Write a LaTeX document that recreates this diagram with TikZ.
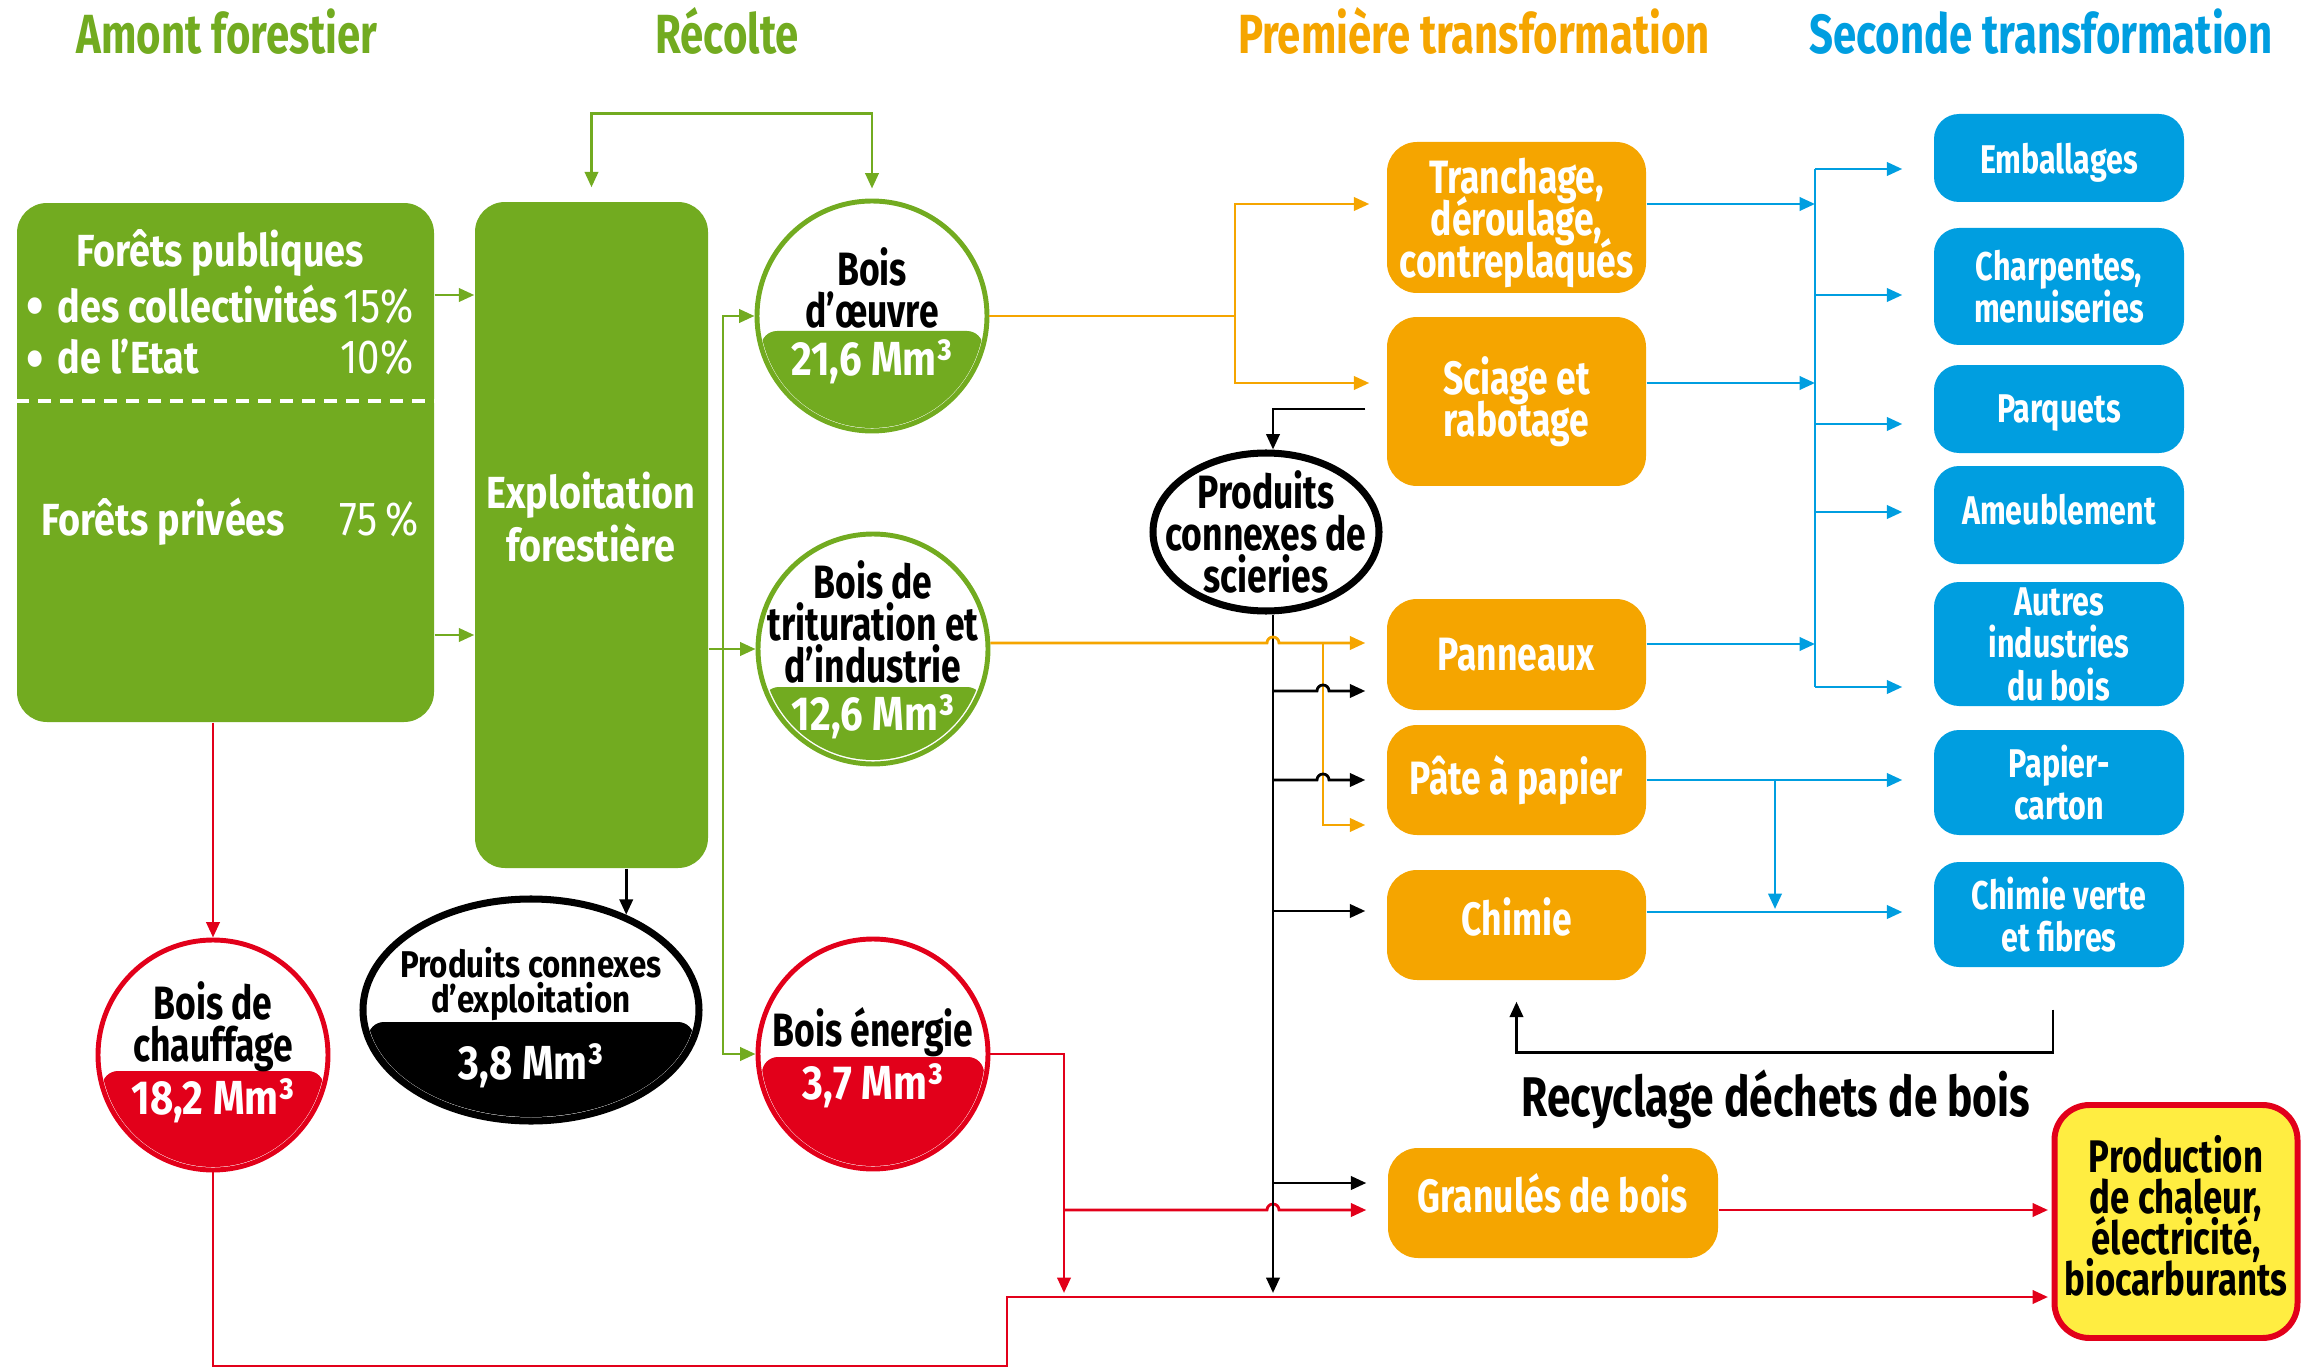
\documentclass[tikz,border=0pt]{standalone}
\usepackage{fontspec}
\setmainfont{Fira Sans}[FakeStretch=0.76]
\newfontfamily\widefont{Fira Sans}[FakeStretch=0.84]
\usetikzlibrary{calc,arrows.meta,shapes.geometric}
\definecolor{vert}{RGB}{114,171,32}
\definecolor{ora}{RGB}{245,165,0}
\definecolor{bleu}{RGB}{0,158,224}
\definecolor{rouge}{RGB}{226,0,26}
\definecolor{jaune}{RGB}{255,237,65}
\newcommand\ftitre{\fontsize{15.7}{16}\selectfont\bfseries}
\newcommand\ftxt{\fontsize{13.3}{12}\selectfont\bfseries\lineskiplimit=-20pt}
\newcommand\fforet{\widefont\fontsize{12.8}{12.4}\selectfont\bfseries\lineskiplimit=-20pt}
\newcommand\fexpl{\widefont\fontsize{12.8}{15}\selectfont\bfseries\lineskiplimit=-20pt}
\newcommand\fpuce{\widefont\fontsize{17}{17}\selectfont\bfseries}
\newcommand\fnum{\widefont\fontsize{13.6}{12}\selectfont\mdseries}
\newcommand\fval{\widefont\fontsize{13.6}{13}\selectfont\bfseries}
\newcommand\fbleu{\fontsize{11.4}{12}\selectfont\bfseries\lineskiplimit=-20pt}
\newcommand\fpetit{\widefont\fontsize{10.6}{10}\selectfont\bfseries\lineskiplimit=-20pt}
\newcommand\frecy{\fontsize{15.9}{15}\selectfont\bfseries}
\newcommand\fprod{\fontsize{13}{11.7}\selectfont\bfseries\lineskiplimit=-20pt}
\def\band[#1](#2)(#3:#4:#5){\begin{scope}\clip (#2) ellipse [x radius=#4-4, y radius=#5-4];\fill[#1, rounded corners=1.6mm] ($(#2)+(-#4+5,#3)$) rectangle ($(#2)+(#4-5,#5)$);\end{scope}}

\begin{document}
\begin{tikzpicture}[x=0.1mm, y=-0.1mm,
	fl/.style={line width=0.8pt},
	fa/.style={line width=0.8pt, -{Triangle[length=4.4pt,width=3.8pt]}},
	fa2/.style={line width=0.8pt, {Triangle[length=4.4pt,width=3.8pt]}-{Triangle[length=4.4pt,width=3.8pt]}},
	vertbox/.style={fill=vert, rounded corners=3mm, inner sep=0pt},
	orabox/.style={fill=ora, rounded corners=3mm, text=white, align=center, inner sep=0pt, text depth=0pt, minimum width=25.9mm, font=\ftxt},
	bleubox/.style={fill=bleu, rounded corners=2.5mm, text=white, align=center, inner sep=0pt, text depth=0pt, minimum width=25mm, font=\fbleu},
	vol/.style={circle, draw=#1, line width=1.4pt, minimum size=23mm, inner sep=0pt},
	txt/.style={align=center, inner sep=0pt, font=\ftxt},
	ftxt/.style={inner sep=0pt, text=white, font=\fforet},
	valeur/.style={anchor=base, inner sep=0pt, text=white, font=\fval}]
	%%%%% START %%%%%
	\useasboundingbox (0,0) rectangle (2315,1370);
	
	\node[anchor=base, text=vert, font=\ftitre] (t1) at (227,54) {Amont forestier};
	\node[anchor=base, text=vert, font=\ftitre] (t2) at (727,54) {Récolte};
	\node[anchor=base, text=ora, font=\ftitre] (t3) at (1474,54) {Première transformation};
	\node[anchor=base, text=bleu, font=\ftitre] (t4) at (2041,54) {Seconde transformation};
	
	\node[vertbox, minimum width=41.7mm, minimum height=51.9mm] (forets) at (225.5,462.5) {};
	\draw[white, line width=0.9pt, dash pattern=on 1.3mm off 0.9mm] (forets.west |- 0,401) -- (forets.east |- 0,401);
	\node[ftxt, anchor=base] (fpub) at (220,267) {Forêts publiques};
	\node[ftxt, anchor=base west, font=\fpuce] (fpt1) at (26,327) {•};
	\node[ftxt, anchor=base west] (fcol) at (57,322) {des collectivités};
	\node[ftxt, anchor=base east, font=\fnum] (fcolp) at (414,322) {15\%};
	\node[ftxt, anchor=base west, font=\fpuce] (fpt2) at (26,379) {•};
	\node[ftxt, anchor=base west] (fetat) at (57,373) {de l’Etat};
	\node[ftxt, anchor=base east, font=\fnum] (fetatp) at (414,373) {10\%};
	\node[ftxt, anchor=base west] (fpriv) at (41,535) {Forêts privées};
	\node[ftxt, anchor=base east, font=\fnum] (fprivp) at (419,535) {75\,\%};
	
	\node[vertbox, minimum width=23.3mm, minimum height=66.6mm] (exploi) at (591.5,535) {};
	\node[txt, text=white, font=\fexpl] (exploitxt) at (591,517) {Exploitation\\forestière};
	
	\node[vol=vert] (oeuvre) at (872,316) {};
	\band[vert](oeuvre)(15:116:116)
	\node[txt] (oeuvretxt) at (872,288) {Bois\\d’œuvre};
	\node[valeur] (oeuvreval) at (872,375) {21,6 Mm³};
	
	\node[vol=vert] (tritu) at (873,649) {};
	\band[vert](tritu)(38:115:115)
	\node[txt] (tritutxt) at (873,622) {Bois de\\trituration et\\d’industrie};
	\node[valeur] (trituval) at (873,730) {12,6 Mm³};
	
	\node[vol=rouge] (chauff) at (213,1055) {};
	\band[rouge](chauff)(16:116:116)
	\node[txt] (chaufftxt) at (213,1027) {Bois de\\chauffage};
	\node[valeur] (chauffval) at (213,1114) {18,2 Mm³};
	
	\node[vol=rouge] (energie) at (873,1054) {};
	\band[rouge](energie)(3:116:116)
	\node[txt, anchor=base] (energietxt) at (873,1046) {Bois énergie};
	\node[valeur] (energieval) at (873,1099) {3,7 Mm³};
	
	\node[ellipse, draw, line width=2pt, minimum width=33.6mm, minimum height=22.2mm, inner sep=0pt] (pcexp) at (531,1010) {};
	\band[black](pcexp)(12:168:111)
	\node[txt, font=\fpetit] (pcexptxt) at (531,984) {Produits connexes\\d’exploitation};
	\node[valeur] (pcexpval) at (531,1079) {3,8 Mm³};
	
	\node[ellipse, draw, line width=2pt, minimum width=22.6mm, minimum height=15.8mm, inner sep=0pt] (pcsci) at (1266,532) {};
	\node[txt] (pcscitxt) at (1266,532) {Produits\\connexes de\\scieries};
	
	\node[orabox, minimum height=15.1mm] (tranch) at (1516.5,217.5) {Tranchage,\\déroulage,\\contreplaqués};
	\node[orabox, minimum height=16.9mm, text depth=] (sciage) at (1516.5,401.5) {Sciage et\\rabotage};
	\node[orabox, minimum height=11.1mm] (pann) at (1516.5,654.5) {Panneaux};
	\node[orabox, minimum height=11mm, text depth=] (pate) at (1516.5,780) {Pâte à papier};
	\node[orabox, minimum height=11mm, text depth=5pt] (chimie) at (1516.5,925) {Chimie};
	\node[orabox, minimum height=11mm, minimum width=33mm, text depth=5.8pt] (granul) at (1553,1203) {Granulés de bois};
	
	\node[bleubox, minimum height=8.8mm] (emb) at (2059,158) {Emballages};
	\node[bleubox, minimum height=11.7mm] (charp) at (2059,286.5) {Charpentes,\\menuiseries};
	\node[bleubox, minimum height=8.8mm] (parq) at (2059,409) {Parquets};
	\node[bleubox, minimum height=9.8mm, text depth=3.4pt] (ameub) at (2059,515) {Ameublement};
	\node[bleubox, minimum height=12.4mm] (autres) at (2059,644) {Autres\\industries\\du bois};
	\node[bleubox, minimum height=10.5mm] (papier) at (2059,782.5) {Papier-\\carton};
	\node[bleubox, minimum height=10.5mm] (chimv) at (2059,914.5) {Chimie verte\\et fibres};
	
	\node[draw=rouge, fill=jaune, line width=1.7pt, rounded corners=3.5mm, minimum width=24.3mm, minimum height=23.3mm, align=center, inner sep=0pt, text depth=3.4pt, font=\fprod] (prod) at (2176,1221.5) {Production\\de chaleur,\\électricité,\\biocarburants};
	
	\node[anchor=base, inner sep=0pt, font=\frecy] (recy) at (1776,1116) {Recyclage déchets de bois};
	
	% recolte
	\draw[fa, vert] (forets.east |- 0,295) -- (exploi.west |- 0,295);
	\draw[fa, vert] (forets.east |- 0,635) -- (exploi.west |- 0,635);
	\draw[fa2, vert] ([yshift=1.4mm]exploi.north) -- ++(0,-74) -| ([yshift=1mm]oeuvre.north);
	\coordinate (gbus) at (723,0);
	\draw[fa, vert] (exploi.east |- tritu.west) -- (tritu.west);
	\draw[fa, vert] (gbus |- tritu.west) -- (gbus |- oeuvre.west) -- (oeuvre.west);
	\draw[fa, vert] (gbus |- tritu.west) -- (gbus |- energie.west) -- (energie.west);
	\draw[fa] (exploi.south -| pcexp.45) -- (pcexp.45);
	
	% bois energie
	\coordinate (rbas) at (1007,1366);
	\coordinate (rbus) at (1064,0);
	\coordinate (kbus) at (1273,0);
	\coordinate (obus) at (1323,0);
	\draw[fa, rouge] (forets.south -| chauff.north) -- (chauff.north);
	\draw[fa, rouge, shorten >=1pt] (chauff.south) |- (rbas) |- (prod.west |- 0,1297);
	\draw[fl, rouge] (energie.east) -| (rbus |- 0,1210);
	\draw[fa, rouge] (rbus |- 0,1210) -- (rbus |- 0,1293);
	\draw[fa, rouge, shorten >=2.1mm] (rbus |- 0,1210) -- ($(kbus |- 0,1210)+(-6,0)$) arc[start angle=180, end angle=0, radius=0.6mm] -- (granul.west |- 0,1210);
	\draw[fa, rouge, shorten >=1pt] (granul.east |- 0,1210) -- (prod.west |- 0,1210);
	
	% premiere transformation
	\coordinate (obr) at (1235,0);
	\draw[fl, ora] (oeuvre.east) -- (obr |- oeuvre.east);
	\draw[fa, ora, shorten >=1.7mm] (obr |- oeuvre.east) |- (tranch.west |- 0,204);
	\draw[fa, ora, shorten >=1.7mm] (obr |- oeuvre.east) |- (sciage.west |- 0,383);
	\draw[fa, shorten <=2.1mm] (sciage.west |- 0,409) -| (kbus |- pcsci.north);
	\draw[fa] (kbus |- pcsci.south) -- (kbus |- 0,1293);
	\draw[fa, ora, shorten >=2.1mm] (tritu.east |- 0,643) -- ($(kbus |- 0,643)+(-6,0)$) arc[start angle=180, end angle=0, radius=0.6mm] -- (pann.west |- 0,643);
	\draw[fa, ora, shorten >=2.1mm] (obus |- 0,643) |- (pate.west |- 0,825);
	\draw[fa, shorten >=2.1mm] (kbus |- 0,691) -- ($(obus |- 0,691)+(-6,0)$) arc[start angle=180, end angle=0, radius=0.6mm] -- (pann.west |- 0,691);
	\draw[fa, shorten >=2.1mm] (kbus |- 0,780) -- ($(obus |- 0,780)+(-6,0)$) arc[start angle=180, end angle=0, radius=0.6mm] -- (pate.west |- 0,780);
	\draw[fa, shorten >=2.1mm] (kbus |- 0,911) -- (chimie.west |- 0,911);
	\draw[fa, shorten >=2.1mm] (kbus |- 0,1183) -- (granul.west |- 0,1183);
	
	% seconde transformation
	\coordinate (bbus) at (1815,0);
	\coordinate (pbr) at (1775,0);
	\draw[fa, bleu] (tranch.east |- 0,204) -- (bbus |- 0,204);
	\draw[fa, bleu] (sciage.east |- 0,383) -- (bbus |- 0,383);
	\draw[fa, bleu] (pann.east |- 0,644) -- (bbus |- 0,644);
	\draw[fl, bleu] (bbus |- 0,169) -- (bbus |- 0,687);
	\foreach \b/\y in {emb/169, charp/295, parq/424, ameub/512, autres/687}
		\draw[fa, bleu, shorten >=3.1mm] (bbus |- 0,\y) -- (\b.west |- 0,\y);
	\draw[fa, bleu, shorten >=3.1mm] (pate.east) -- (papier.west |- pate.east);
	\draw[fa, bleu] (pbr |- pate.east) -- (pbr |- 0,909);
	\draw[fa, bleu, shorten >=3.1mm] (chimie.east |- 0,912) -- (chimv.west |- 0,912);
	
	% recyclage
	\draw[fa] ([xshift=-0.6mm, yshift=-4.2mm]chimv.south) |- ($(chimie.south)+(0,72)$) -- ([yshift=-2.1mm]chimie.south);
	%%%%% END %%%%%
\end{tikzpicture}
\end{document}
